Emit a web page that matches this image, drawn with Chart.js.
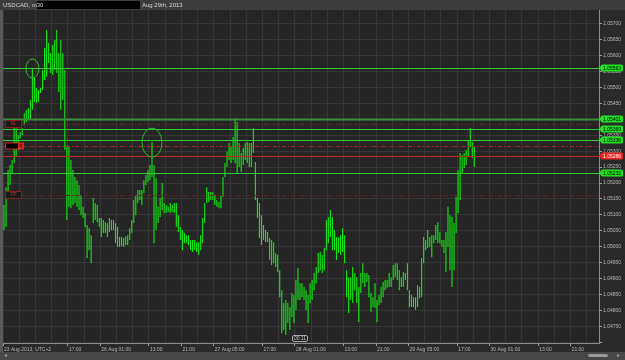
<!DOCTYPE html>
<html>
<head>
<meta charset="utf-8">
<title>USDCAD, m30</title>
<script src="https://cdn.jsdelivr.net/npm/chart.js@4.4.0/dist/chart.umd.min.js"></script>
<style>
  html, body { margin: 0; padding: 0; background: #2a2a2a; overflow: hidden; }
  #wrap { width: 625px; height: 360px; position: relative; }
  canvas { display: block; }
</style>
</head>
<body>
<div id="wrap"><canvas id="myChart" width="625" height="360"></canvas></div>
<script>
var symbolName = "USDCAD, m30";
var chartDate = "Aug 29th, 2013";

// 30 minute bars, high and low
var barHigh = [
  1.05131, 1.05187, 1.05241, 1.05257, 1.05272, 1.05373, 1.05373, 1.05351, 1.05360, 1.05373,
  1.05420, 1.05430, 1.05436, 1.05461, 1.05562, 1.05533, 1.05499, 1.05492, 1.05499, 1.05555,
  1.05625, 1.05681, 1.05640, 1.05609, 1.05634, 1.05650, 1.05681, 1.05609, 1.05650, 1.05609,
  1.05555, 1.05319, 1.05313, 1.05272, 1.05241, 1.05219, 1.05209, 1.05194, 1.05162, 1.05125,
  1.05106, 1.05068, 1.05058, 1.05036, 1.05153, 1.05137, 1.05131, 1.05090, 1.05090, 1.05084,
  1.05077, 1.05074, 1.05090, 1.05084, 1.05084, 1.05074, 1.05062, 1.05030, 1.05030, 1.05027,
  1.05033, 1.05036, 1.05058, 1.05084, 1.05147, 1.05162, 1.05178, 1.05178, 1.05178, 1.05209,
  1.05225, 1.05241, 1.05257, 1.05329, 1.05257, 1.05216, 1.05125, 1.05153, 1.05200, 1.05137,
  1.05131, 1.05125, 1.05137, 1.05131, 1.05137, 1.05137, 1.05099, 1.05062, 1.05052, 1.05043,
  1.05036, 1.05036, 1.05021, 1.05021, 1.05021, 1.05014, 1.05014, 1.05036, 1.05090, 1.05137,
  1.05187, 1.05172, 1.05172, 1.05172, 1.05162, 1.05147, 1.05140, 1.05162, 1.05219, 1.05263,
  1.05298, 1.05326, 1.05313, 1.05345, 1.05404, 1.05392, 1.05326, 1.05294, 1.05310, 1.05326,
  1.05329, 1.05326, 1.05326, 1.05373, 1.05266, 1.05153, 1.05137, 1.05099, 1.05068, 1.05052,
  1.05046, 1.05027, 1.05021, 1.05014, 1.04980, 1.04974, 1.04926, 1.04863, 1.04823, 1.04832,
  1.04823, 1.04810, 1.04854, 1.04848, 1.04895, 1.04933, 1.04885, 1.04885, 1.04873, 1.04863,
  1.04848, 1.04885, 1.04895, 1.04917, 1.04936, 1.04980, 1.04983, 1.04974, 1.04996, 1.05084,
  1.05093, 1.05115, 1.05093, 1.05052, 1.05030, 1.05030, 1.05036, 1.05058, 1.05036, 1.04926,
  1.04904, 1.04904, 1.04936, 1.04917, 1.04904, 1.04873, 1.04917, 1.04948, 1.04917, 1.04917,
  1.04911, 1.04854, 1.04841, 1.04885, 1.04832, 1.04848, 1.04873, 1.04889, 1.04895, 1.04895,
  1.04917, 1.04904, 1.04942, 1.04948, 1.04948, 1.04926, 1.04904, 1.04920, 1.04917, 1.04948,
  1.04863, 1.04848, 1.04841, 1.04841, 1.04879, 1.04873, 1.04964, 1.05030, 1.05021, 1.05052,
  1.05030, 1.05036, 1.05036, 1.05068, 1.05077, 1.05046, 1.05021, 1.05021, 1.05046, 1.05125,
  1.05099, 1.05093, 1.05074, 1.05156, 1.05241, 1.05294, 1.05288, 1.05294, 1.05304, 1.05335,
  1.05373, 1.05329, 1.05313
];
var barLow = [
  1.05052, 1.05062, 1.05172, 1.05194, 1.05231, 1.05263, 1.05282, 1.05304, 1.05341, 1.05351,
  1.05382, 1.05392, 1.05398, 1.05398, 1.05430, 1.05455, 1.05452, 1.05455, 1.05483, 1.05492,
  1.05524, 1.05533, 1.05577, 1.05546, 1.05540, 1.05555, 1.05546, 1.05486, 1.05430, 1.05461,
  1.05304, 1.05084, 1.05125, 1.05121, 1.05131, 1.05137, 1.05125, 1.05115, 1.05099, 1.05090,
  1.05062, 1.04964, 1.04989, 1.04948, 1.05074, 1.05084, 1.05077, 1.05062, 1.05030, 1.05043,
  1.05043, 1.05030, 1.05046, 1.05052, 1.05052, 1.05011, 1.04999, 1.04999, 1.05002, 1.04999,
  1.05005, 1.05005, 1.05021, 1.05043, 1.05074, 1.05099, 1.05137, 1.05147, 1.05131, 1.05169,
  1.05194, 1.05203, 1.05209, 1.05219, 1.05011, 1.05052, 1.05074, 1.05093, 1.05115, 1.05106,
  1.05106, 1.05109, 1.05106, 1.05109, 1.05106, 1.05062, 1.05046, 1.05021, 1.04989, 1.05011,
  1.05011, 1.05005, 1.04989, 1.04983, 1.04989, 1.04983, 1.04974, 1.04989, 1.05011, 1.05074,
  1.05137, 1.05140, 1.05147, 1.05147, 1.05131, 1.05125, 1.05121, 1.05121, 1.05156, 1.05219,
  1.05250, 1.05272, 1.05263, 1.05272, 1.05263, 1.05231, 1.05250, 1.05235, 1.05257, 1.05272,
  1.05263, 1.05250, 1.05250, 1.05294, 1.05147, 1.05090, 1.05027, 1.05005, 1.05021, 1.05014,
  1.05014, 1.04958, 1.04942, 1.04948, 1.04936, 1.04920, 1.04841, 1.04728, 1.04738, 1.04722,
  1.04760, 1.04738, 1.04779, 1.04760, 1.04801, 1.04832, 1.04832, 1.04841, 1.04832, 1.04801,
  1.04760, 1.04823, 1.04832, 1.04863, 1.04885, 1.04917, 1.04926, 1.04917, 1.04926, 1.04989,
  1.05011, 1.05030, 1.04989, 1.04989, 1.04958, 1.04980, 1.04974, 1.04983, 1.04948, 1.04841,
  1.04791, 1.04832, 1.04823, 1.04863, 1.04823, 1.04763, 1.04854, 1.04885, 1.04873, 1.04889,
  1.04841, 1.04794, 1.04810, 1.04807, 1.04763, 1.04816, 1.04823, 1.04841, 1.04863, 1.04870,
  1.04873, 1.04873, 1.04895, 1.04904, 1.04895, 1.04863, 1.04873, 1.04873, 1.04895, 1.04863,
  1.04810, 1.04810, 1.04810, 1.04801, 1.04810, 1.04838, 1.04841, 1.04948, 1.04989, 1.04996,
  1.04999, 1.04967, 1.05011, 1.05021, 1.05011, 1.05011, 1.04999, 1.04980, 1.04920, 1.04999,
  1.04926, 1.04873, 1.04926, 1.05043, 1.05106, 1.05147, 1.05231, 1.05247, 1.05257, 1.05282,
  1.05313, 1.05279, 1.05250
];
var slotCount = 294;

var tickIndex = [0, 32, 48, 72, 88, 104, 128, 144, 168, 184, 200, 224, 240, 264, 280];
var tickLabels = ["23 Aug 2013, UTC+2", "17:00", "26 Aug 01:00", "13:00", "21:00", "27 Aug 05:00",
  "17:00", "28 Aug 01:00", "13:00", "21:00", "29 Aug 05:00", "17:00", "30 Aug 01:00", "13:00", "21:00"];

var levelValues = [1.05563, 1.05401, 1.05369, 1.05336, 1.05286, 1.05232];
var levelColors = ["#36c836", "#3e8e3e", "#36c836", "#36c836", "#c22424", "#36c836"];
var tagColors = ["#22e022", "#22e022", "#22e022", "#22e022", "#e82020", "#22e022"];
var orderValues = [1.05385, 1.05315, 1.05162];
var orderNames = ["SL", "", "TP"];
var circleBars = [14, 73];
var circleValues = [1.05560, 1.05327];
var cursorBar = 146;
var cursorText = "00:11";

var categories = [];
var ranges = [];
for (var i = 0; i < slotCount; i++) {
  var k = tickIndex.indexOf(i);
  categories.push(k >= 0 ? tickLabels[k] : "");
  ranges.push(i < barHigh.length ? [barLow[i], barHigh[i]] : null);
}

var smallFont = "5px 'Liberation Sans'";

function roundRect(ctx, x, y, w, h, r) {
  ctx.beginPath();
  ctx.moveTo(x + r, y);
  ctx.lineTo(x + w - r, y);
  ctx.quadraticCurveTo(x + w, y, x + w, y + r);
  ctx.lineTo(x + w, y + h - r);
  ctx.quadraticCurveTo(x + w, y + h, x + w - r, y + h);
  ctx.lineTo(x + r, y + h);
  ctx.quadraticCurveTo(x, y + h, x, y + h - r);
  ctx.lineTo(x, y + r);
  ctx.quadraticCurveTo(x, y, x + r, y);
  ctx.closePath();
}

var terminalLook = {
  id: "terminalLook",
  beforeDraw: function(chart) {
    var ctx = chart.ctx, a = chart.chartArea;
    ctx.save();
    ctx.fillStyle = "#2a2a2a";
    ctx.fillRect(0, 0, chart.width, chart.height);
    ctx.fillStyle = "#252525";
    ctx.fillRect(a.left, a.top, a.right - a.left, a.bottom - a.top);
    ctx.restore();
  },
  afterDatasetsDraw: function(chart) {
    var ctx = chart.ctx, a = chart.chartArea;
    var y = chart.scales.y, x = chart.scales.x;
    ctx.save();
    ctx.beginPath();
    ctx.rect(a.left, a.top, a.right - a.left, a.bottom - a.top);
    ctx.clip();
    // pending order lines
    for (var i = 0; i < orderValues.length; i++) {
      var py = Math.round(y.getPixelForValue(orderValues[i])) + 0.5;
      ctx.strokeStyle = i == 1 ? "#b02424" : "#6e2020";
      ctx.lineWidth = 1;
      ctx.setLineDash([4, 2, 1, 2]);
      ctx.beginPath();
      ctx.moveTo(a.left, py);
      ctx.lineTo(a.right, py);
      ctx.stroke();
    }
    ctx.setLineDash([]);
    for (var j = 0; j < levelValues.length; j++) {
      var ly = Math.round(y.getPixelForValue(levelValues[j])) + 0.5;
      ctx.strokeStyle = levelColors[j];
      ctx.lineWidth = j == 1 ? 2 : 1;
      ctx.beginPath();
      ctx.moveTo(a.left, ly);
      ctx.lineTo(a.right, ly);
      ctx.stroke();
    }
    ctx.strokeStyle = "#2fb82f";
    ctx.lineWidth = 1;
    var radX = [6.5, 10], radY = [9.5, 14.5];
    for (var c = 0; c < circleBars.length; c++) {
      ctx.beginPath();
      ctx.ellipse(x.getPixelForValue(circleBars[c]), y.getPixelForValue(circleValues[c]), radX[c], radY[c], 0, 0, Math.PI * 2);
      ctx.stroke();
    }
    ctx.restore();
  },
  afterDraw: function(chart) {
    var ctx = chart.ctx, a = chart.chartArea;
    var y = chart.scales.y, x = chart.scales.x;
    ctx.save();
    // title bar
    ctx.fillStyle = "#3c3c3c";
    ctx.fillRect(0, 0, chart.width, a.top);
    ctx.fillStyle = "#000";
    ctx.fillRect(37, 1, 103, 8);
    ctx.fillStyle = "#d6d6d6";
    ctx.font = "6px 'Liberation Sans'";
    ctx.textBaseline = "middle";
    ctx.textAlign = "left";
    ctx.fillText(symbolName, 3, 5);
    ctx.fillText(chartDate, 142, 5);
    // left strip and bottom bar
    ctx.fillStyle = "#595959";
    ctx.fillRect(0, a.top, 3, chart.height - a.top);
    ctx.fillStyle = "#474747";
    ctx.fillRect(0, 352, chart.width, 8);
    ctx.fillStyle = "#9a9a9a";
    roundRect(ctx, 588, 354, 20, 3, 1.5);
    ctx.fill();
    ctx.beginPath();
    ctx.moveTo(617, 354); ctx.lineTo(620, 355.5); ctx.lineTo(617, 357); ctx.closePath(); ctx.fill();
    ctx.beginPath();
    ctx.moveTo(7, 354); ctx.lineTo(4, 355.5); ctx.lineTo(7, 357); ctx.closePath(); ctx.fill();
    // order boxes on the left
    ctx.font = smallFont;
    ctx.textAlign = "center";
    for (var i = 0; i < orderValues.length; i++) {
      var oy = Math.round(y.getPixelForValue(orderValues[i]));
      if (orderNames[i]) {
        ctx.fillStyle = "#1a1a1a";
        ctx.fillRect(5.5, oy - 3.5, 16, 7);
        ctx.strokeStyle = "#8a1c1c";
        ctx.strokeRect(5.5, oy - 3.5, 16, 7);
        ctx.fillStyle = "#c43030";
        ctx.fillText(orderNames[i], 13.5, oy);
      } else {
        ctx.fillStyle = "#000";
        ctx.fillRect(5.5, oy - 3, 13, 6);
        ctx.fillStyle = "#d82222";
        ctx.fillRect(18, oy - 3, 6, 6);
        ctx.strokeStyle = "#d82222";
        ctx.strokeRect(5.5, oy - 3, 18, 6);
        ctx.fillStyle = "#000";
        ctx.fillText("x", 21, oy);
      }
    }
    // price tags
    for (var j = 0; j < levelValues.length; j++) {
      var ty = Math.round(y.getPixelForValue(levelValues[j]));
      ctx.fillStyle = tagColors[j];
      roundRect(ctx, 601, ty - 3.5, 22, 7, 1.5);
      ctx.fill();
      ctx.beginPath();
      ctx.moveTo(598.5, ty); ctx.lineTo(602, ty - 3); ctx.lineTo(602, ty + 3); ctx.closePath(); ctx.fill();
      ctx.fillStyle = j == 4 ? "#fff" : "#000";
      ctx.fillText(levelValues[j].toFixed(5), 612, ty + 0.5);
    }
    // crosshair time bubble
    var cx = x.getPixelForValue(cursorBar);
    ctx.fillStyle = "#1c1c1c";
    ctx.strokeStyle = "#aaa";
    roundRect(ctx, cx - 7.5, a.bottom - 7.5, 15, 6, 1.5);
    ctx.fill();
    ctx.stroke();
    ctx.fillStyle = "#ccc";
    ctx.fillText(cursorText, cx, a.bottom - 4.3);
    ctx.restore();
  }
};

const ctx = document.getElementById("myChart");
new Chart(ctx, {
  type: "bar",
  data: {
    labels: categories,
    datasets: [{
      data: ranges,
      backgroundColor: "#12e812",
      borderWidth: 0,
      barPercentage: 0.55,
      categoryPercentage: 1
    }]
  },
  options: {
    responsive: false,
    animation: false,
    layout: { padding: { left: 3, top: 10, right: 0, bottom: 0 } },
    plugins: {
      legend: { display: false },
      tooltip: { enabled: false },
      title: { display: false }
    },
    scales: {
      x: {
        type: "category",
        afterFit: function(s) { s.height = 17; },
        ticks: {
          autoSkip: false,
          maxRotation: 0,
          minRotation: 0,
          align: "start",
          padding: 1,
          color: "#b8b8b8",
          font: { family: "Liberation Sans", size: 5 }
        },
        grid: {
          offset: true,
          color: function(c) { return c.index % 8 === 0 ? "#363636" : "rgba(0,0,0,0)"; },
          tickColor: function(c) { return tickIndex.indexOf(c.index) >= 0 ? "#9a9a9a" : "rgba(0,0,0,0)"; },
          tickLength: 3
        },
        border: { color: "#8c8c8c" }
      },
      y: {
        position: "right",
        min: 1.04697,
        max: 1.05744,
        afterFit: function(s) { s.width = 26; },
        ticks: {
          stepSize: 0.0005,
          includeBounds: false,
          padding: 1,
          color: "#b8b8b8",
          font: { family: "Liberation Sans", size: 5 },
          callback: function(v) { return v > 1.0472 ? v.toFixed(5) : ""; }
        },
        grid: { color: "#363636", tickColor: "#9a9a9a", tickLength: 3 },
        border: { color: "#8c8c8c" }
      }
    }
  },
  plugins: [terminalLook]
});
</script>
</body>
</html>
